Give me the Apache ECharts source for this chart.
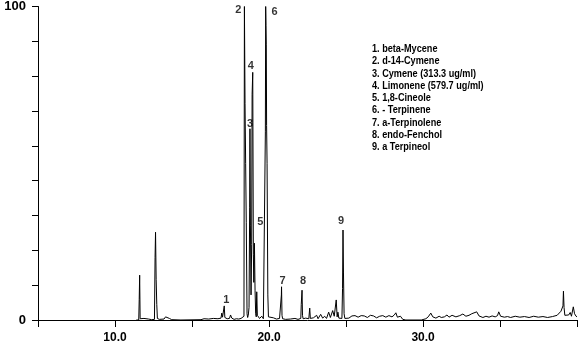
<!DOCTYPE html>
<html>
<head>
<meta charset="utf-8">
<script src="https://cdn.jsdelivr.net/npm/echarts@6/dist/echarts.min.js"></script>
<style>
  html, body { margin: 0; padding: 0; background: #fff; }
  #chart { width: 580px; height: 344px; }
</style>
</head>
<body>
<div id="chart"></div>
<script>
// Retention time (min) of each trace point
const retentionTime = [
  11.38, 11.54, 11.57, 11.60, 11.63, 11.73, 11.88, 11.93, 12.18, 12.28, 12.38,
  12.56, 12.60, 12.63, 12.67, 12.71, 12.75, 12.88, 13.18, 13.28, 13.38, 13.53,
  13.68, 14.28, 15.58, 15.78, 16.08, 16.38, 16.68, 16.88, 16.93, 16.98, 17.05,
  17.09, 17.13, 17.28, 17.43, 17.50, 17.58, 17.73, 17.88, 18.03, 18.18, 18.30,
  18.37, 18.40, 18.44, 18.48, 18.52, 18.57, 18.61, 18.65, 18.70, 18.74, 18.76,
  18.79, 18.83, 18.87, 18.90, 18.94, 18.98, 19.01, 19.05, 19.09, 19.13, 19.17,
  19.20, 19.24, 19.38, 19.53, 19.63, 19.72, 19.76, 19.78, 19.80, 19.82, 19.84,
  19.87, 19.92, 19.96, 20.08, 20.28, 20.48, 20.68, 20.77, 20.80, 20.81, 20.84,
  20.88, 21.08, 21.18, 21.38, 21.68, 21.88, 22.06, 22.09, 22.14, 22.17, 22.21,
  22.38, 22.58, 22.64, 22.68, 22.88, 23.09, 23.18, 23.35, 23.48, 23.61, 23.73,
  23.87, 23.98, 24.13, 24.23, 24.36, 24.42, 24.47, 24.53, 24.73, 24.77, 24.80,
  24.83, 24.87, 24.92, 25.03, 25.18, 25.38, 25.58, 25.78, 25.98, 26.18, 26.38,
  26.58, 26.78, 26.98, 27.18, 27.38, 27.58, 27.78, 27.98, 28.13, 28.23, 28.33,
  28.53, 28.68, 28.88, 29.88, 30.18, 30.33, 30.50, 30.63, 30.83, 31.04, 31.18,
  31.38, 31.55, 31.68, 31.88, 32.00, 32.13, 32.38, 32.58, 32.78, 32.98, 33.16,
  33.28, 33.48, 33.63, 33.88, 34.08, 34.28, 34.48, 34.68, 34.83, 34.91, 35.03,
  35.28, 35.48, 35.68, 35.98, 36.28, 36.58, 36.88, 37.18, 37.48, 37.78, 38.08,
  38.40, 38.70, 38.95, 39.08, 39.11, 39.15, 39.20, 39.30, 39.45, 39.55, 39.63,
  39.75, 39.83, 39.93, 39.99
];

// Relative abundance (%) at each retention time
const abundance = [
  0, 0, 6.5, 14.3, 0.4, 0.2, 0.5, 0.1, 0.3, 0.5, 0.1,
  0.2, 20, 28, 13, 5, 0.5, 0.2, 0.3, 1.0, 0.4, 0.5,
  0.1, 0, 0.1, 0.4, 0.3, 0.5, 0.4, 0.6, 2.2, 0.9, 1.5,
  4.5, 0.8, 0.4, 0.5, 1.6, 0.6, 0.2, 0.4, 0.3, 0.5, 0.4,
  1.2, 100, 69, 50, 31, 2, 0.8, 1.5, 4, 36, 61,
  30, 8, 24, 72, 79, 21, 12, 24.5, 9.5, 2, 1,
  9, 1.5, 0.5, 1.2, 0.4, 0.5, 60, 100, 94, 88, 62,
  50, 8, 1, 0.4, 0.7, 0.3, 0.5, 0.5, 8, 10.6, 1.5,
  0.4, 0.2, 0.6, 0.3, 0.5, 0.2, 0.5, 5, 9.5, 1.5, 0.4,
  0.6, 0.4, 3.8, 0.5, 0.7, 1.5, 0.4, 1.8, 0.6, 1.2, 0.5,
  2.5, 0.8, 3, 1.2, 6.4, 1, 2.5, 0.6, 0.5, 10, 28.7,
  15, 2, 0.5, 1.0, 0.6, 1.3, 1.4, 0.9, 1.4, 1.3, 0.8,
  1.5, 1.3, 0.7, 1.2, 1.4, 0.9, 1.4, 1.0, 1.6, 2.3, 0.9,
  1.2, 0.2, 0, 0, 0.4, 1.0, 2.2, 1.0, 0.6, 1.2, 0.8,
  1.0, 1.6, 0.9, 1.5, 1.8, 1.0, 1.4, 1.9, 1.2, 1.5, 2.0,
  1.5, 2.6, 1.3, 0.8, 1.2, 0.9, 1.3, 1.0, 1.4, 2.6, 1.2,
  0.9, 1.1, 0.8, 1.2, 0.9, 1.1, 0.8, 1.2, 0.9, 1.1, 0.8,
  1.1, 1.5, 2.8, 4.5, 9.2, 4, 1.5, 1.0, 1.6, 2.4, 1.2,
  4.2, 2.0, 1.2, 1.0
];

// Identified peaks: number, apex time and apex abundance
const peakNumbers = ['1', '2', '3', '4', '5', '6', '7', '8', '9'];
const peakTimes   = [17.09, 18.40, 18.76, 18.94, 19.05, 19.78, 20.81, 22.14, 24.80];
const peakHeights = [4.5, 100, 61, 79, 24.5, 100, 10.6, 9.5, 28.7];

// Compound key
const compounds = [
  '1. beta-Mycene',
  '2. d-14-Cymene',
  '3. Cymene (313.3 ug/ml)',
  '4. Limonene (579.7 ug/ml)',
  '5. 1,8-Cineole',
  '6. - Terpinene',
  '7. a-Terpinolene',
  '8. endo-Fenchol',
  '9. a Terpineol'
];

// Axis tick labels
const xTickLabels = ['10.0', '20.0', '30.0'];
const yTickLabels = ['0', '100'];

// Pixel nudges for the peak numbers, relative to each apex
const peakLabelOffsets = [[2, -6], [-6, 3], [0, -5], [-2, -6], [6, -21], [9, 5], [1, -6], [1, -9], [-2, -9]];

const trace = retentionTime.map((t, i) => [t, abundance[i]]);
const peaks = peakTimes.map((t, i) => ({
  value: [t, peakHeights[i]],
  name: peakNumbers[i],
  label: { offset: peakLabelOffsets[i] }
}));

const chart = echarts.init(document.getElementById('chart'), null, { renderer: 'canvas' });
const font = 'Liberation Sans, Arial, sans-serif';

chart.setOption({
  animation: false,
  backgroundColor: '#ffffff',
  grid: { left: 38, right: 0, top: 6, bottom: 24, containLabel: false },
  xAxis: {
    type: 'value',
    min: 5,
    max: 39.99,
    interval: 5,
    splitLine: { show: false },
    axisLine: { onZero: false, lineStyle: { color: '#000', width: 1 } },
    axisTick: { length: 7, lineStyle: { color: '#000' } },
    axisLabel: {
      margin: 12,
      color: '#000',
      fontFamily: font,
      fontWeight: 'bold',
      fontSize: 12,
      formatter: v => {
        const s = v.toFixed(1);
        return xTickLabels.includes(s) ? s : '';
      }
    }
  },
  yAxis: {
    type: 'value',
    min: 0,
    max: 100,
    interval: 100 / 9,
    splitLine: { show: false },
    axisLine: { lineStyle: { color: '#000', width: 1 } },
    axisTick: { length: 6, lineStyle: { color: '#000' } },
    axisLabel: {
      margin: 12,
      color: '#000',
      fontFamily: font,
      fontWeight: 'bold',
      fontSize: 13,
      formatter: v => {
        const s = String(Math.round(v));
        return (yTickLabels.includes(s) && Math.abs(v - Math.round(v)) < 1e-6) ? s : '';
      }
    }
  },
  series: [
    {
      type: 'line',
      data: trace,
      symbol: 'none',
      clip: true,
      lineStyle: { color: '#000', width: 1 },
      z: 3
    },
    {
      type: 'scatter',
      data: peaks,
      symbolSize: 0,
      silent: true,
      z: 4,
      label: {
        show: true,
        position: 'inside',
        formatter: p => p.name,
        color: '#000',
        fontFamily: font,
        fontWeight: 'bold',
        fontSize: 11
      }
    }
  ],
  graphic: [
    {
      type: 'text',
      x: 372,
      y: 43,
      scaleX: 0.83,
      style: {
        text: compounds.join('\n'),
        fill: '#000',
        fontFamily: font,
        fontWeight: 'bold',
        fontSize: 11,
        lineHeight: 12.25
      }
    }
  ]
});
</script>
</body>
</html>
